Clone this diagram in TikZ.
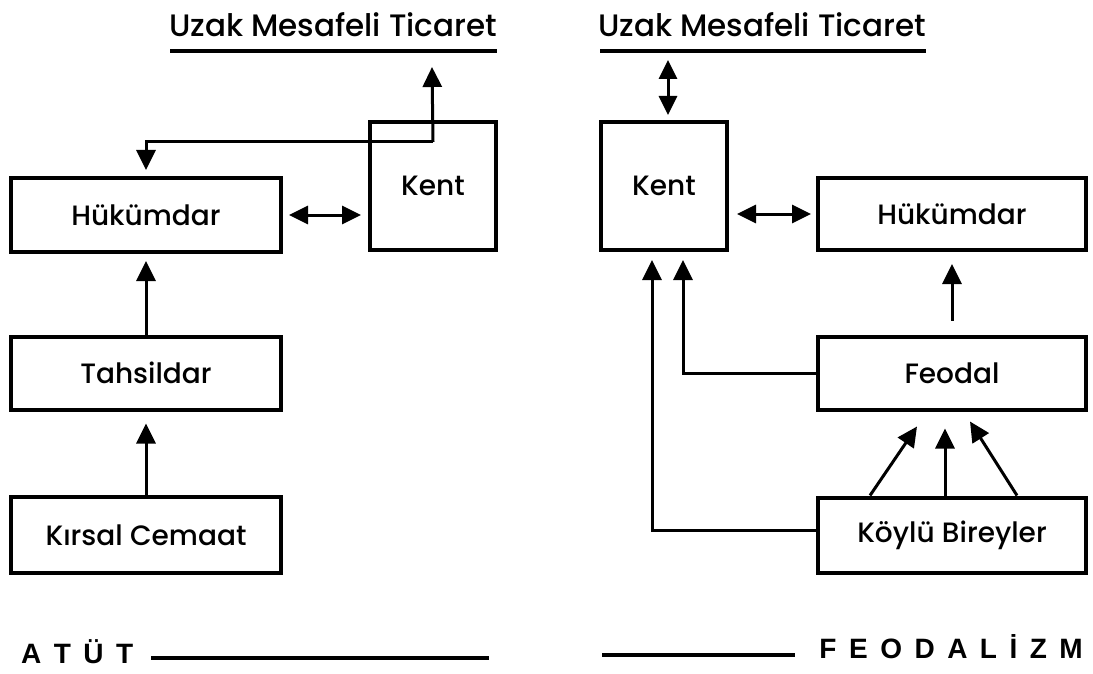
\documentclass[tikz,border=0pt]{standalone}
\usepackage{fontspec}
\setmainfont{Poppins}[UprightFont=* Medium]
\newfontfamily\capsfont{Liberation Sans}
\usetikzlibrary{arrows.meta}

\newcommand\lsp{\hspace{12.5pt}}

\begin{document}
\begin{tikzpicture}[x=1pt, y=-1pt,
    box/.style={draw, line width=4pt, inner sep=0pt, minimum height=74pt,
                font=\fontsize{28}{30}\selectfont},
    title/.style={font=\fontsize{31}{34}\selectfont},
    caps/.style={inner sep=0pt, font=\capsfont\bfseries\fontsize{28}{30}\selectfont},
    arr/.style={line width=3pt, -{Triangle[length=20pt,width=19pt]}},
    dbl/.style={line width=3pt, {Triangle[length=19pt,width=18pt]}-{Triangle[length=19pt,width=18pt]}},
    rule/.style={line width=4pt},
  ]
    \useasboundingbox (0,0) rectangle (1093,674);

    % ATUT side
    \node[title] (ticL) at (333,25) {Uzak Mesafeli Ticaret};
    \draw[rule] (170,51) -- (497,51);
    \coordinate (ticLend) at (432,67);

    \node[box, minimum width=270pt] (hukL) at (146,215) {Hükümdar};
    \node[box, minimum width=126pt, minimum height=128pt] (kentL) at (433,186) {Kent};
    \node[box, minimum width=270pt, minimum height=73pt] (tahsil) at (146,373) {Tahsildar};
    \node[box, minimum width=270pt, minimum height=76pt] (kirsal) at (146,535) {Kırsal Cemaat};

    \draw[arr] ([yshift=-22pt]kentL.north) -- (ticLend);
    \draw[arr] ([yshift=-22pt]kentL.north) -| ([yshift=6pt]hukL.north);
    \draw[dbl, shorten <=6pt, shorten >=7pt] (hukL.east) -- (hukL.east -| kentL.west);
    \draw[arr, shorten >=7pt] (tahsil) -- (hukL);
    \draw[arr, shorten >=12pt] (kirsal) -- (tahsil);

    % FEODALIZM side
    \node[title] (ticR) at (762,25) {Uzak Mesafeli Ticaret};
    \draw[rule] (600,51) -- (926,51);
    \coordinate (ticRend) at (668,60);

    \node[box, minimum width=126pt, minimum height=128pt] (kentR) at (664,186) {Kent};
    \node[box, minimum width=268pt, minimum height=72pt] (hukR) at (952,214) {Hükümdar};
    \node[box, minimum width=268pt, minimum height=73pt] (feodal) at (952,373) {Feodal};
    \node[box, minimum width=268pt, minimum height=75pt] (koylu) at (952,535) {Köylü Bireyler};

    \draw[dbl, shorten >=5pt] (ticRend) -- (ticRend |- kentR.north);
    \draw[dbl, shorten <=8pt, shorten >=5pt] (kentR.east |- hukR.west) -- (hukR.west);
    \draw[arr, shorten <=14pt, shorten >=12pt] (feodal) -- (hukR);
    \draw[arr] (feodal.west) -| ([xshift=19pt,yshift=-8pt]kentR.south);
    \draw[arr] ([yshift=5pt]koylu.west) -| ([xshift=-12pt,yshift=-8pt]kentR.south);

    % peasants to feudal lord
    \draw[arr] ([xshift=-82pt]koylu.north) -- ([xshift=-35pt,yshift=-15pt]feodal.south);
    \draw[arr] ([xshift=-7pt]koylu.north) -- ([xshift=-7pt,yshift=-17pt]feodal.south);
    \draw[arr] ([xshift=65pt]koylu.north) -- ([xshift=18pt,yshift=-10pt]feodal.south);

    % Bottom labels
    \node[caps, anchor=base west] (atut) at (21,663) {A\lsp T\lsp Ü\lsp T};
    \draw[rule] (151,658) -- (489,658);
    \node[caps, anchor=base east] (feod) at (1083,658) {F\lsp E\lsp O\lsp D\lsp A\lsp L\lsp İ\lsp Z\lsp M};
    \draw[rule] (602,655) -- (795,655);

\end{tikzpicture}
\end{document}
